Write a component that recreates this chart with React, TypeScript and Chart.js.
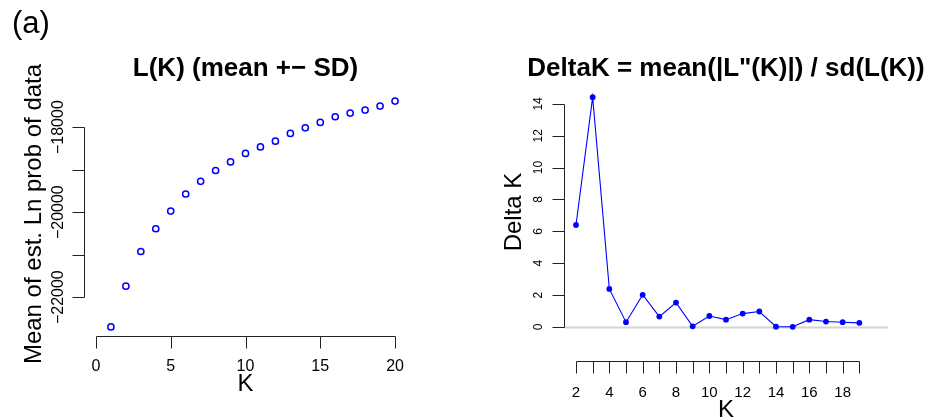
import React, { useEffect, useRef } from "react";
import { Chart, registerables } from "chart.js";

Chart.register(...registerables);

const FONT = "'Liberation Sans', Arial, Helvetica, sans-serif";

// ---------- data (a) left panel: L(K) ----------
const kLeft = [1, 2, 3, 4, 5, 6, 7, 8, 9, 10, 11, 12, 13, 14, 15, 16, 17, 18, 19, 20];
const lnProbMean = [
  -22700, -21740, -20925, -20390, -19975, -19573, -19274, -19021, -18818, -18620,
  -18465, -18330, -18149, -18017, -17889, -17757, -17670, -17599, -17505, -17387,
];

// ---------- data right panel: DeltaK ----------
const kRight = [2, 3, 4, 5, 6, 7, 8, 9, 10, 11, 12, 13, 14, 15, 16, 17, 18, 19];
const deltaK = [
  6.4, 14.42, 2.39, 0.3, 2.02, 0.65, 1.53, 0.04, 0.69, 0.46, 0.84, 0.97, 0.02, 0.01, 0.46,
  0.34, 0.3, 0.26,
];

// ---------- ticks / labels ----------
const leftXTicks = [0, 5, 10, 15, 20];
const leftXTickLabels = ["0", "5", "10", "15", "20"];
const leftYTicks = [-22000, -21000, -20000, -19000, -18000];
const leftYTickLabels = ["\u221222000", "", "\u221220000", "", "\u221218000"];
const rightXTicks = [2, 3, 4, 5, 6, 7, 8, 9, 10, 11, 12, 13, 14, 15, 16, 17, 18, 19];
const rightXTickLabels = ["2", "", "4", "", "6", "", "8", "", "10", "", "12", "", "14", "", "16", "", "18", ""];
const rightYTicks = [0, 2, 4, 6, 8, 10, 12, 14];
const rightYTickLabels = ["0", "2", "4", "6", "8", "10", "12", "14"];

const leftXLimits = [0, 20];
const rightXLimits = [2, 20];

const panelLabel = "(a)";
const leftTitle = "L(K) (mean +\u2212 SD)";
const rightTitle = 'DeltaK = mean(|L"(K)|) / sd(L(K))';
const leftXTitle = "K";
const leftYTitle = "Mean of est. Ln prob of data";
const rightXTitle = "K";
const rightYTitle = "Delta K";

// R-style 4% axis extension
function rExtend(lo: number, hi: number): [number, number] {
  const d = (hi - lo) * 0.04;
  return [lo - d, hi + d];
}

function labelFrom(ticks: number[], labels: string[]) {
  return (v: any) => {
    const i = ticks.indexOf(Number(v));
    return i >= 0 ? labels[i] : "";
  };
}

type Spec = {
  xTicks: number[];
  yTicks: number[];
  xAxisOffset: number;
  zeroLine: boolean;
  title: string;
  panel?: string;
};

function makeRPlugin(spec: Spec) {
  return {
    id: "rStyle",
    beforeDatasetsDraw(chart: any) {
      if (!spec.zeroLine) return;
      const { ctx, chartArea, scales } = chart;
      const y = Math.round(scales.y.getPixelForValue(0)) + 0.5;
      ctx.save();
      ctx.strokeStyle = "#d4d4d4";
      ctx.lineWidth = 2;
      ctx.beginPath();
      ctx.moveTo(chartArea.left, y);
      ctx.lineTo(chartArea.right, y);
      ctx.stroke();
      ctx.restore();
    },
    afterDraw(chart: any) {
      const { ctx, chartArea, scales } = chart;
      const xs = scales.x;
      const ys = scales.y;
      const TL = 12;
      ctx.save();
      ctx.strokeStyle = "#222";
      ctx.lineWidth = 1;
      // x axis
      const yAx = Math.round(chartArea.bottom + spec.xAxisOffset) + 0.5;
      const xPix = spec.xTicks.map((v) => Math.round(xs.getPixelForValue(v)) + 0.5);
      ctx.beginPath();
      ctx.moveTo(xPix[0], yAx);
      ctx.lineTo(xPix[xPix.length - 1], yAx);
      xPix.forEach((px) => {
        ctx.moveTo(px, yAx);
        ctx.lineTo(px, yAx + TL);
      });
      ctx.stroke();
      // y axis
      const xAx = Math.round(chartArea.left) + 0.5;
      const yPix = spec.yTicks.map((v) => Math.round(ys.getPixelForValue(v)) + 0.5);
      ctx.beginPath();
      ctx.moveTo(xAx, yPix[0]);
      ctx.lineTo(xAx, yPix[yPix.length - 1]);
      yPix.forEach((py) => {
        ctx.moveTo(xAx, py);
        ctx.lineTo(xAx - TL, py);
      });
      ctx.stroke();
      // title
      ctx.fillStyle = "#000";
      ctx.font = `bold 26px ${FONT}`;
      ctx.textAlign = "center";
      ctx.textBaseline = "alphabetic";
      ctx.fillText(spec.title, (chartArea.left + chartArea.right) / 2, 76);
      if (spec.panel) {
        ctx.font = `31px ${FONT}`;
        ctx.textAlign = "left";
        ctx.fillText(spec.panel, 12, 33);
      }
      ctx.restore();
    },
  };
}

function makeLeftConfig(): any {
  const [xMin, xMax] = rExtend(leftXLimits[0], leftXLimits[1]);
  const [yMin, yMax] = rExtend(Math.min(...lnProbMean), Math.max(...lnProbMean));
  return {
    type: "scatter",
    data: {
      datasets: [
        {
          data: kLeft.map((k, i) => ({ x: k, y: lnProbMean[i] })),
          showLine: false,
          pointStyle: "circle",
          pointRadius: 3.1,
          pointBorderWidth: 1.5,
          pointBorderColor: "#0000ff",
          pointBackgroundColor: "rgba(0,0,0,0)",
        },
      ],
    },
    options: {
      animation: false,
      responsive: false,
      devicePixelRatio: 1,
      events: [],
      layout: { padding: { top: 92, right: 58, bottom: 0, left: 0 } },
      plugins: { legend: { display: false }, tooltip: { enabled: false }, title: { display: false } },
      scales: {
        x: {
          type: "linear",
          position: "bottom",
          min: xMin,
          max: xMax,
          bounds: "data",
          afterBuildTicks: (s: any) => {
            s.ticks = leftXTicks.map((v) => ({ value: v }));
          },
          afterFit: (s: any) => {
            s.height = 84;
          },
          grid: { display: false, drawTicks: false },
          border: { display: false },
          ticks: {
            autoSkip: false,
            minRotation: 0,
            maxRotation: 0,
            padding: 21,
            color: "#000",
            font: { size: 16, family: FONT },
            callback: labelFrom(leftXTicks, leftXTickLabels),
          },
          title: {
            display: true,
            text: leftXTitle,
            color: "#000",
            font: { size: 24, family: FONT },
            padding: { top: 0, bottom: 21 },
          },
        },
        y: {
          type: "linear",
          position: "left",
          min: yMin,
          max: yMax,
          bounds: "data",
          afterBuildTicks: (s: any) => {
            s.ticks = leftYTicks.map((v) => ({ value: v }));
          },
          afterFit: (s: any) => {
            s.width = 84;
          },
          grid: { display: false, drawTicks: false },
          border: { display: false },
          ticks: {
            autoSkip: false,
            minRotation: 90,
            maxRotation: 90,
            crossAlign: "center",
            padding: -1.6,
            color: "#000",
            font: { size: 16, family: FONT },
            callback: labelFrom(leftYTicks, leftYTickLabels),
          },
          title: {
            display: true,
            text: leftYTitle,
            color: "#000",
            font: { size: 24, family: FONT },
            padding: { top: 20, bottom: 0 },
          },
        },
      },
    },
    plugins: [
      makeRPlugin({
        xTicks: leftXTicks,
        yTicks: leftYTicks,
        xAxisOffset: 0,
        zeroLine: false,
        title: leftTitle,
        panel: panelLabel,
      }),
    ],
  };
}

function makeRightConfig(): any {
  const [xMin, xMax] = rExtend(rightXLimits[0], rightXLimits[1]);
  const [yMin, yMax] = rExtend(Math.min(...deltaK), Math.max(...deltaK));
  return {
    type: "scatter",
    data: {
      datasets: [
        {
          data: kRight.map((k, i) => ({ x: k, y: deltaK[i] })),
          showLine: true,
          borderColor: "#0000ff",
          borderWidth: 1.1,
          pointStyle: "circle",
          pointRadius: 2.9,
          pointBorderWidth: 0,
          pointBackgroundColor: "#0000ff",
          pointBorderColor: "#0000ff",
        },
      ],
    },
    options: {
      animation: false,
      responsive: false,
      devicePixelRatio: 1,
      events: [],
      layout: { padding: { top: 88, right: 42, bottom: 0, left: 0 } },
      plugins: { legend: { display: false }, tooltip: { enabled: false }, title: { display: false } },
      scales: {
        x: {
          type: "linear",
          position: "bottom",
          min: xMin,
          max: xMax,
          bounds: "data",
          afterBuildTicks: (s: any) => {
            s.ticks = rightXTicks.map((v) => ({ value: v }));
          },
          afterFit: (s: any) => {
            s.height = 84;
          },
          grid: { display: false, drawTicks: false },
          border: { display: false },
          ticks: {
            autoSkip: false,
            minRotation: 0,
            maxRotation: 0,
            padding: 48,
            color: "#000",
            font: { size: 15, family: FONT },
            callback: labelFrom(rightXTicks, rightXTickLabels),
          },
          title: {
            display: true,
            text: rightXTitle,
            color: "#000",
            font: { size: 24, family: FONT },
            padding: { top: 0, bottom: -4.4 },
          },
        },
        y: {
          type: "linear",
          position: "left",
          min: yMin,
          max: yMax,
          bounds: "data",
          afterBuildTicks: (s: any) => {
            s.ticks = rightYTicks.map((v) => ({ value: v }));
          },
          afterFit: (s: any) => {
            s.width = 99;
          },
          grid: { display: false, drawTicks: false },
          border: { display: false },
          ticks: {
            autoSkip: false,
            minRotation: 90,
            maxRotation: 90,
            crossAlign: "center",
            padding: 18.3,
            color: "#000",
            font: { size: 12, family: FONT },
            callback: labelFrom(rightYTicks, rightYTickLabels),
          },
          title: {
            display: true,
            text: rightYTitle,
            color: "#000",
            font: { size: 24, family: FONT },
            padding: { top: 34.6, bottom: 0 },
          },
        },
      },
    },
    plugins: [
      makeRPlugin({
        xTicks: rightXTicks,
        yTicks: rightYTicks,
        xAxisOffset: 25,
        zeroLine: true,
        title: rightTitle,
      }),
    ],
  };
}

export default function App() {
  const leftRef = useRef<HTMLCanvasElement>(null);
  const rightRef = useRef<HTMLCanvasElement>(null);

  useEffect(() => {
    Chart.defaults.font.family = FONT;
    Chart.defaults.color = "#000";
    const c1 = new Chart(leftRef.current as HTMLCanvasElement, makeLeftConfig());
    const c2 = new Chart(rightRef.current as HTMLCanvasElement, makeRightConfig());
    return () => {
      c1.destroy();
      c2.destroy();
    };
  }, []);

  return (
    <div
      style={{
        position: "absolute",
        left: 0,
        top: 0,
        width: 930,
        height: 420,
        background: "#ffffff",
        overflow: "hidden",
      }}
    >
      <canvas
        ref={leftRef}
        width={465}
        height={420}
        style={{ position: "absolute", left: 0, top: 0, width: 465, height: 420 }}
      />
      <canvas
        ref={rightRef}
        width={465}
        height={420}
        style={{ position: "absolute", left: 465, top: 0, width: 465, height: 420 }}
      />
    </div>
  );
}
